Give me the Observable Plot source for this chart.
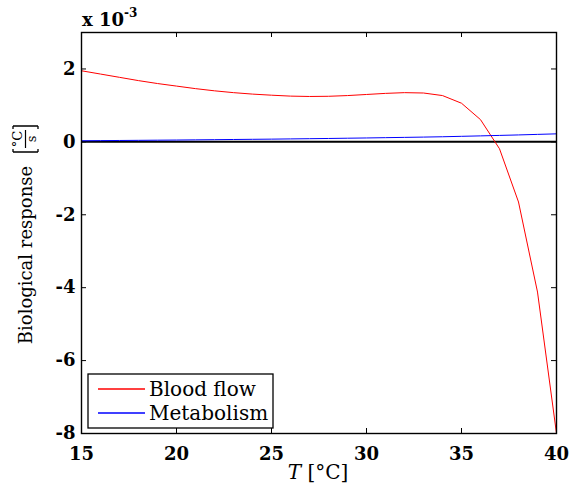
<!DOCTYPE html>
<html><head><meta charset="utf-8">
<script src="https://cdn.jsdelivr.net/npm/d3@7"></script>
<script src="https://cdn.jsdelivr.net/npm/@observablehq/plot@0.6"></script>
<style>body{margin:0;background:#fff} #chart svg{display:block}</style>
</head><body><div id="chart"></div>
<script>
// values in units of 1e-3 °C/s
const temperature = [15,16,17,18,19,20,21,22,23,24,25,26,27,28,29,30,31,32,33,34,35,36,37,38,39,40];
const bloodFlow   = [1.95,1.86,1.77,1.68,1.60,1.53,1.46,1.40,1.35,1.31,1.28,1.255,1.245,1.25,1.27,1.30,1.33,1.35,1.34,1.27,1.06,0.61,-0.19,-1.65,-4.12,-8.0];
const metabolism  = [0.030,0.034,0.038,0.042,0.046,0.050,0.055,0.060,0.065,0.070,0.075,0.081,0.087,0.093,0.100,0.107,0.115,0.123,0.131,0.140,0.152,0.164,0.177,0.190,0.205,0.220];
const xTicks = [15,20,25,30,35,40];
const yTicks = [-8,-6,-4,-2,0,2];
const seriesNames = ["Blood flow","Metabolism"];
const seriesColors = ["#ff0000","#0000ff"];
const yExponent = "-3";
const xLabelVar = "T", xLabelUnit = " [°C]";
const yLabelText = "Biological response";

const W=570,H=490,mL=81,mR=14,mT=32,mB=57;
const pw=W-mL-mR, ph=H-mT-mB;
const font="'DejaVu Serif', serif";
const rows = temperature.flatMap((t,i)=>[
  {T:t, v:bloodFlow[i], s:seriesNames[0]},
  {T:t, v:metabolism[i], s:seriesNames[1]}
]);

const chart = Plot.plot({
  width:W, height:H, marginLeft:mL, marginRight:mR, marginTop:mT, marginBottom:mB,
  style:{fontFamily:font, fontSize:"18px", color:"black", background:"white", overflow:"visible"},
  x:{domain:[15,40]}, y:{domain:[-8,3]},
  color:{domain:seriesNames, range:seriesColors},
  marks:[
    Plot.axisX(xTicks,{tickSize:0, tickPadding:14, fontWeight:"bold", label:null, tickFormat:d=>String(d)}),
    Plot.axisY(yTicks,{tickSize:0, tickPadding:6, fontWeight:"bold", label:null, tickFormat:d=>String(d)}),
    Plot.tickX(xTicks,{x:d=>d, insetTop:ph-5, stroke:"black"}),
    Plot.tickX(xTicks,{x:d=>d, insetBottom:ph-5, stroke:"black"}),
    Plot.tickY(yTicks,{y:d=>d, insetRight:pw-5, stroke:"black"}),
    Plot.tickY(yTicks,{y:d=>d, insetLeft:pw-5, stroke:"black"}),
    Plot.ruleY([0],{stroke:"black", strokeWidth:2}),
    Plot.line(rows,{x:"T", y:"v", z:"s", stroke:"s", strokeWidth:1}),
    Plot.frame({stroke:"black", strokeWidth:1.4})
  ]
});
document.getElementById("chart").append(chart);

const svg = d3.select(chart);
// exponent
const ex = svg.append("text").attr("x",82).attr("y",26).attr("text-anchor","start").attr("font-family",font)
  .attr("font-weight","bold").attr("font-size",18).attr("fill","black");
ex.append("tspan").text("x 10");
ex.append("tspan").attr("font-size",12).attr("dy",-9).text(yExponent);

// x label
const xl = svg.append("text").attr("x",318).attr("y",479).attr("text-anchor","middle")
  .attr("font-family",font).attr("font-size",20).attr("fill","black");
xl.append("tspan").attr("font-style","italic").text(xLabelVar);
xl.append("tspan").text(xLabelUnit);

// y label (rotated): local (lx,ly) -> screen (ly,-lx)
const yg = svg.append("g").attr("transform","rotate(-90)").attr("font-family",font).attr("fill","black");
yg.append("text").attr("x",-255).attr("y",32).attr("text-anchor","middle").attr("font-size",18).text(yLabelText);
yg.append("text").attr("x",-139).attr("y",22).attr("text-anchor","middle").attr("font-size",13).text("°C");
yg.append("text").attr("x",-139).attr("y",36).attr("text-anchor","middle").attr("font-size",13).text("s");
yg.append("path").attr("d","M-148,25.5H-130").attr("stroke","black").attr("stroke-width",1.2);
yg.append("path").attr("d","M-152,13V38M-152,13H-149M-152,38H-149").attr("stroke","black").attr("stroke-width",1.3).attr("fill","none");
yg.append("path").attr("d","M-126,13V38M-126,13H-129M-126,38H-129").attr("stroke","black").attr("stroke-width",1.3).attr("fill","none");

// legend
const lg = svg.append("g").attr("font-family",font).attr("font-size",20).attr("fill","black").attr("text-anchor","start");
lg.append("rect").attr("x",88).attr("y",374).attr("width",185).attr("height",54)
  .attr("fill","white").attr("stroke","black").attr("stroke-width",1.3);
seriesNames.forEach((n,i)=>{
  const y = 389 + i*24;
  lg.append("line").attr("x1",98).attr("x2",145).attr("y1",y).attr("y2",y).attr("stroke",seriesColors[i]).attr("stroke-width",1.3);
  lg.append("text").attr("x",149).attr("y",y+7).attr("text-anchor","start").text(n);
});
</script></body></html>
